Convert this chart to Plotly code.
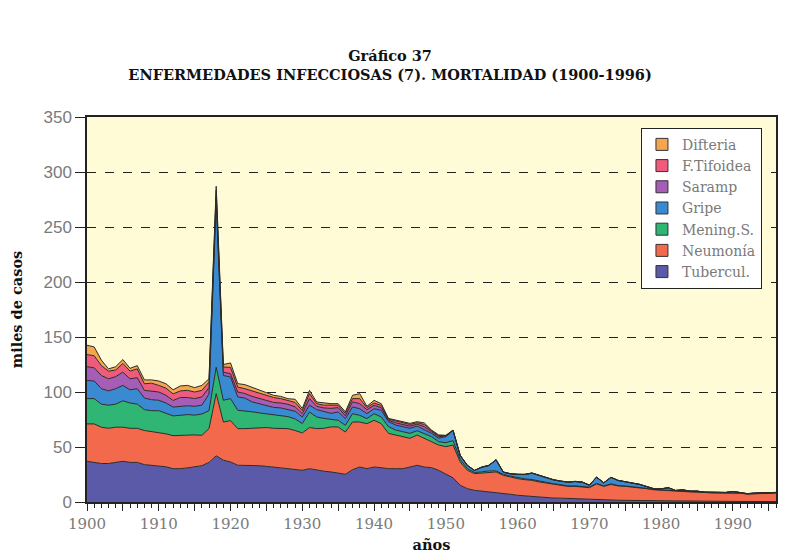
"""Gráfico 37: mortalidad por enfermedades infecciosas en España, 1900-1996."""

import plotly.graph_objects as go

YEARS = list(range(1900, 1997))

# miles de defunciones por año
TUBERCUL = [
    37, 36, 35, 35, 36, 37, 36, 36, 34, 33.5,            # 1900
    33, 32, 30.3, 30.3, 31, 32, 33, 36, 42, 38,          # 1910
    36.4, 33.4, 33.4, 33, 33, 32.4, 32, 31, 30.3, 29.5,  # 1920
    28.8, 30.3, 28.8, 28, 27.3, 26.4, 25.2, 29.4, 31.8, 30.3,  # 1930
    31.8, 31.2, 30.3, 30.3, 30.3, 31.8, 33.4, 31.8, 31.2, 28.8,  # 1940
    25.2, 22, 15.2, 12.1, 10.6, 10, 9.1, 8.2, 7.6, 7,    # 1950
    6.1, 5.5, 5.2, 4.5, 4, 3.6, 3.5, 3.2, 2.9, 2.6,      # 1960
    2.2, 2.1, 1.9, 1.8, 1.6, 1.5, 1.4, 1.2, 1.1, 1,      # 1970
    0.9, 0.8, 0.8, 0.7, 0.7, 0.6, 0.6, 0.6, 0.5, 0.5,    # 1980
    0.5, 0.5, 0.5, 0.5, 0.4, 0.4, 0.4,                   # 1990
]
NEUMONIA = [
    34, 35, 33, 32, 32, 31, 31, 31, 31, 30.5,
    30.6, 30, 30, 30.3, 30, 29, 27.6, 30.7, 56.5, 34.7,
    37.6, 33.3, 33.3, 34, 34, 35.3, 35, 36, 36.4, 35.5,
    34, 37.4, 37.9, 39, 41, 41.8, 38.4, 43.3, 40.9, 40.9,
    42.5, 40, 32.1, 30.6, 29.1, 26.1, 27.5, 26.1, 23.6, 23,
    25.1, 29.8, 21.2, 16.7, 15.2, 16.4, 18.2, 19.1, 16.7, 15.7,
    15.1, 14.8, 14.5, 13.7, 13.3, 12.5, 11.7, 11, 11.3, 11,
    10.8, 14.3, 12.3, 14.2, 13, 12.7, 12.2, 11.5, 11, 10.1,
    9.7, 9.8, 8.9, 9, 8.5, 8.4, 7.9, 7.7, 7.7, 7.6,
    7.9, 7.5, 6.7, 7.2, 7.3, 7.5, 7.8,
]
MENING = [
    23, 23, 21, 21, 21, 24, 23, 22, 19, 19,
    19.4, 19, 18, 18.2, 18.5, 18, 19.4, 16.3, 24, 19.8,
    20, 16.7, 16.3, 15, 14, 12.6, 12, 11.5, 10.9, 10.5,
    8.5, 14.1, 10.6, 9, 7, 6.1, 6.1, 7.6, 6.1, 4.6,
    6, 6.1, 6.1, 4.5, 4.5, 4.5, 3.9, 4.5, 4.6, 3,
    3.6, 4, 2.3, 1.5, 1, 1, 1, 1, 0.8, 0.8,
    0.7, 0.7, 0.7, 0.7, 0.6, 0.6, 0.6, 0.5, 0.5, 0.5,
    0.5, 0.5, 0.5, 0.5, 0.4, 0.4, 0.4, 0.4, 0.3, 0.3,
    0.3, 0.3, 0.3, 0.3, 0.3, 0.3, 0.2, 0.2, 0.2, 0.2,
    0.2, 0.2, 0.2, 0.2, 0.2, 0.2, 0.2,
]
GRIPE = [
    16.5, 16, 14, 13, 14, 14, 12, 14, 10.5, 10,
    9.5, 9, 8, 8.2, 8, 8, 8, 15, 150, 22.5,
    19.6, 12.1, 11.5, 9, 8.5, 7.7, 7, 7, 6.7, 7,
    6, 6.2, 6.7, 6, 5.3, 7.5, 6.1, 6.1, 6, 4.5,
    4.5, 6.1, 4.5, 4.6, 4.6, 4.6, 4.2, 3, 3, 3.1,
    5.5, 9, 3.3, 2.7, 1.8, 4.1, 4.8, 9.9, 1.9, 2,
    3, 3.9, 5.7, 5.1, 3.9, 3.3, 3, 3.2, 3.8, 3.8,
    1.7, 5.6, 2.6, 5.8, 4.5, 4, 3.1, 2.8, 1.7, 0.5,
    1, 2, 0.4, 1, 0.3, 0.5, 0.2, 0.1, 0.2, 0.3,
    0.9, 0.1, 0.1, 0.1, 0.1, 0.2, 0.2,
]
SARAMP = [
    12.5, 12, 12, 11, 11, 12, 10, 10, 7, 8,
    7.5, 7, 6, 8, 7.5, 7, 7.5, 6, 6, 3,
    3, 4.5, 4.1, 5, 4.5, 4.5, 4.5, 4.5, 4.5, 4,
    3, 6, 3, 3.5, 4.5, 4, 2.5, 4.6, 4.6, 3.6,
    3.1, 2.4, 1.3, 2, 2, 2, 1.8, 3, 1.5, 1.5,
    0.6, 0.3, 0.3, 0.2, 0.1, 0.15, 0.15, 0.15, 0.15, 0.15,
    0.15, 0.15, 0.15, 0.15, 0.15, 0.15, 0.15, 0.15, 0.15, 0.15,
    0.1, 0.1, 0.1, 0.1, 0.1, 0.1, 0.1, 0.1, 0.1, 0.1,
    0.05, 0.05, 0.05, 0.05, 0.05, 0.05, 0.05, 0.05, 0.05, 0.05,
    0.05, 0.05, 0.05, 0.05, 0.05, 0.05, 0.05,
]
TIFOIDEA = [
    11, 11, 9, 7, 6, 8, 7, 8, 6, 7,
    6, 6.5, 6, 6, 6.5, 6, 6, 5, 5, 4.7,
    5.8, 4.5, 4.4, 5, 5, 4.5, 4.5, 4, 3.6, 4,
    2.7, 4.5, 2.4, 2.5, 3, 2.1, 2.2, 3, 4.6, 1.9,
    2.1, 2, 1, 1.5, 1.5, 1.5, 1.3, 2, 1, 1,
    0.4, 0.2, 0.1, 0.1, 0.05, 0.1, 0.1, 0.1, 0.1, 0.1,
    0.1, 0.1, 0.1, 0.1, 0.1, 0.1, 0.1, 0.1, 0.1, 0.1,
    0.05, 0.05, 0.05, 0.05, 0.05, 0.05, 0.05, 0.05, 0.05, 0.05,
    0.05, 0.05, 0.05, 0.05, 0.05, 0.05, 0.05, 0.05, 0.05, 0.05,
    0.05, 0.05, 0.05, 0.05, 0.05, 0.05, 0.05,
]
DIFTERIA = [
    8.5, 8, 5, 2, 3, 3.5, 2.5, 3, 3.5, 3,
    4, 4, 3.7, 4.5, 4.5, 4, 4.5, 3, 3.5, 2.3,
    4, 3.1, 3.7, 3.5, 3, 2.4, 2, 2, 1.5, 2.9,
    2, 3, 1.5, 2, 1.3, 1.5, 1.5, 3, 4.5, 1.2,
    2.4, 1.6, 0.7, 1, 1, 1, 0.9, 1.5, 0.5, 0.6,
    0.2, 0.1, 0.1, 0.1, 0.05, 0.05, 0.05, 0.05, 0.05, 0.05,
    0.05, 0.05, 0.05, 0.05, 0.05, 0.05, 0.05, 0.05, 0.05, 0.05,
    0.05, 0.05, 0.05, 0.05, 0.05, 0.05, 0.05, 0.05, 0.05, 0.05,
    0.05, 0.05, 0.05, 0.05, 0.05, 0.05, 0.05, 0.05, 0.05, 0.05,
    0.05, 0.05, 0.05, 0.05, 0.05, 0.05, 0.05,
]

# stacking order, bottom first
SERIES = [
    ("Tubercul.", TUBERCUL, "#5a5aa8"),
    ("Neumonía", NEUMONIA, "#f2694b"),
    ("Mening.S.", MENING, "#2fb574"),
    ("Gripe", GRIPE, "#3a8ad2"),
    ("Saramp", SARAMP, "#a55db5"),
    ("F.Tifoidea", TIFOIDEA, "#ef5b7c"),
    ("Difteria", DIFTERIA, "#f5a54d"),
]

SERIF = "DejaVu Serif"
GREY = "#7a7a7a"
HEAD = dict(family=SERIF, size=14.5, color="#111111", weight="bold")

fig = go.Figure()
for name, vals, color in SERIES:
    fig.add_trace(go.Scatter(
        x=YEARS, y=vals, name=name, stackgroup="one", mode="lines",
        line=dict(color="#2b2b2b", width=1), fillcolor=color,
        showlegend=False, hoverinfo="x+y+name",
    ))
# square swatches for the legend
for name, vals, color in SERIES:
    fig.add_trace(go.Scatter(
        x=[None], y=[None], name=name, mode="markers",
        marker=dict(symbol="square", size=12, color=color,
                    line=dict(color="#333333", width=1)),
    ))

# the page body adds an 8px offset, margins are set to compensate
fig.update_layout(
    width=801, height=558,
    margin=dict(l=79, r=33, t=109, b=64),
    paper_bgcolor="white",
    plot_bgcolor="#fffbd6",
    title=dict(
        text="Gráfico 37<br>ENFERMEDADES INFECCIOSAS (7). MORTALIDAD (1900-1996)",
        font=HEAD,
        xref="container", x=0.477, xanchor="center",
        yref="container", y=0.905, yanchor="top",
    ),
    legend=dict(
        x=0.804, y=0.972, xanchor="left", yanchor="top",
        traceorder="reversed",
        bgcolor="white", bordercolor="#222222", borderwidth=1,
        font=dict(family=SERIF, size=14, color=GREY),
        itemwidth=30, tracegroupgap=0,
    ),
    xaxis=dict(
        range=[1900, 1996], automargin=False,
        tickvals=list(range(1900, 1996, 5)),
        ticktext=[str(y) if y % 10 == 0 else "" for y in range(1900, 1996, 5)],
        ticks="outside", ticklen=7, tickcolor="#222222",
        minor=dict(dtick=1, ticks="outside", ticklen=4, tickcolor="#222222"),
        showgrid=False, zeroline=False,
        showline=True, linecolor="#222222", linewidth=1.5, mirror=True,
        tickfont=dict(family=SERIF, size=15, color=GREY),
        title=dict(text="años", standoff=8, font=HEAD),
    ),
    yaxis=dict(
        range=[0, 350], dtick=50, automargin=False,
        ticks="outside", ticklen=10, tickcolor="#222222",
        showgrid=True, gridcolor="#222222", griddash="dash", gridwidth=1,
        zeroline=False,
        showline=True, linecolor="#222222", linewidth=1.5, mirror=True,
        tickfont=dict(family="Liberation Sans", size=17, color=GREY),
        title=dict(text="miles de casos", standoff=28, font=HEAD),
    ),
)

fig.write_html("out.html")
